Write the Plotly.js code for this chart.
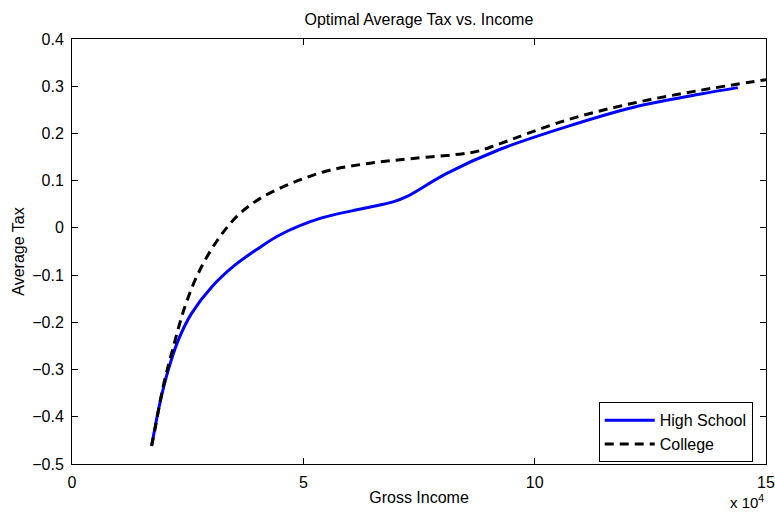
<!DOCTYPE html>
<html>
<head>
<meta charset="utf-8">
<script src="https://cdn.plot.ly/plotly-3.0.1.min.js"></script>
<style>html,body{margin:0;padding:0;background:#fff;}#chart{width:775px;height:512px;}</style>
</head>
<body>
<div id="chart"></div>
<script>
// Gross income (dollars) and optimal average tax
var hsIncome = [17200, 19000, 20800, 23000, 25850, 30200, 35200, 40200, 44900, 53600, 62900, 69400, 72300, 80900, 92400, 106800, 121200, 135600, 143900];
var hsTax    = [-0.462, -0.371, -0.301, -0.237, -0.181, -0.125, -0.079, -0.044, -0.015, 0.020, 0.041, 0.055, 0.066, 0.115, 0.166, 0.214, 0.255, 0.283, 0.297];
var colIncome = [17200, 17900, 19700, 21900, 24400, 27300, 31300, 35900, 40600, 47800, 55700, 64400, 73700, 84500, 88000, 92400, 106800, 121200, 135600, 150000];
var colTax    = [-0.462, -0.428, -0.336, -0.252, -0.167, -0.096, -0.028, 0.027, 0.062, 0.096, 0.122, 0.137, 0.147, 0.157, 0.163, 0.178, 0.228, 0.264, 0.291, 0.314];
var seriesNames = ['High School', 'College'];
var xTickVals = [0, 50000, 100000, 150000];
var xTickText = ['0', '5', '10', '15'];

var fontFam = 'Liberation Sans, Arial, Helvetica, sans-serif';

var traces = [
  {x: hsIncome, y: hsTax, name: seriesNames[0], type: 'scatter', mode: 'lines',
   line: {color: '#0000ff', width: 3, shape: 'spline', smoothing: 1.0}},
  {x: colIncome, y: colTax, name: seriesNames[1], type: 'scatter', mode: 'lines',
   line: {color: '#000000', width: 3, dash: '9px,6px', shape: 'spline', smoothing: 1.0}}
];

var layout = {
  width: 775, height: 512,
  margin: {l: 72, r: 8.5, t: 38.5, b: 48},
  paper_bgcolor: '#fff', plot_bgcolor: '#fff',
  font: {family: fontFam, size: 16, color: '#000'},
  title: {text: 'Optimal Average Tax vs. Income', font: {size: 16, family: fontFam, color: '#000'},
          x: 0.5405, xanchor: 'center', y: 0.963, yanchor: 'middle'},
  xaxis: {
    range: [0, 150000], tickvals: xTickVals, ticktext: xTickText,
    ticks: 'inside', ticklen: 6, tickcolor: '#000', tickwidth: 1,
    showline: true, linecolor: '#000', linewidth: 1, mirror: 'ticks',
    showgrid: false, zeroline: false, fixedrange: true,
    tickfont: {size: 16}, ticklabelstandoff: 4,
    title: {text: 'Gross Income', font: {size: 16}, standoff: 1}
  },
  yaxis: {
    range: [-0.5, 0.4], dtick: 0.1, tick0: 0,
    ticks: 'inside', ticklen: 6, tickcolor: '#000', tickwidth: 1,
    showline: true, linecolor: '#000', linewidth: 1, mirror: 'ticks',
    showgrid: false, zeroline: false, fixedrange: true,
    tickfont: {size: 16}, ticklabelstandoff: 4,
    title: {text: 'Average Tax', font: {size: 16}, standoff: 3}
  },
  legend: {
    x: 0.759, y: 0.0745, xanchor: 'left', yanchor: 'middle',
    bgcolor: '#fff', bordercolor: '#000', borderwidth: 1,
    font: {size: 16}, itemwidth: 50, tracegroupgap: 0
  },
  annotations: [{
    text: 'x 10<sup>4</sup>', xref: 'paper', yref: 'paper', x: 0.999, y: -0.1135,
    xanchor: 'right', yanchor: 'bottom', showarrow: false, font: {size: 15}, borderpad: 0
  }],
  showlegend: true
};

Plotly.newPlot('chart', traces, layout, {displayModeBar: false, staticPlot: true});
</script>
</body>
</html>
